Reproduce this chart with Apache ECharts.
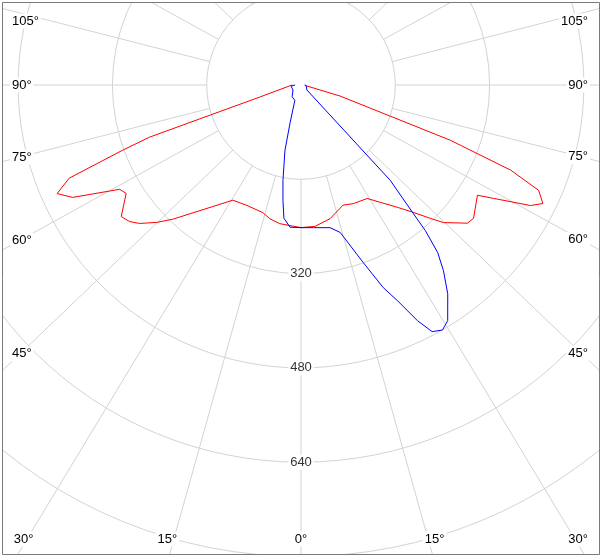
<!DOCTYPE html>
<html><head><meta charset="utf-8">
<script src="https://cdn.jsdelivr.net/npm/echarts@6/dist/echarts.min.js"></script>
<style>html,body{margin:0;padding:0;background:#fff}#c{width:603px;height:559px}</style>
</head><body><div id="c"></div>
<script>
// ---- data (gamma angle in degrees, intensity) ----
const radiusTicks = [320, 480, 640];
const angleTicks = [0, 15, 30, 45, 60, 75, 90, 105];
const gridAngles = [-180, -165, -150, -135, -120, -105, -90, -75, -60, -45, -30, -15, 0,
                    15, 30, 45, 60, 75, 90, 105, 120, 135, 150, 165];

const redLeftGamma  = [0, 8.7, 13.1, 16.7, 24.2, 30.6, 43.7, 46.4, 49.4, 51.5, 53.8, 58.2, 60.1, 63.8, 66.0, 68.1, 69.9, 71.0, 71.5, 73.7, 85, 90];
const redLeftValue  = [242, 238, 233, 226, 224, 227, 315, 338, 361, 372, 378, 349, 355, 432, 453, 424, 323, 272, 181, 73, 20, 15];
const redRightGamma = [0, 5.7, 12.3, 19.3, 23.8, 30.3, 34.0, 38.2, 41.4, 44.1, 46.0, 50.3, 52.3, 58.0, 59.5, 62.3, 63.9, 66.1, 67.9, 69.7, 74.2, 80.5, 90];
const redRightValue = [242, 241, 232, 216, 220, 223, 240, 264, 288, 315, 336, 367, 370, 353, 379, 440, 457, 441, 384, 270, 69, 10, 8];

const blueLeftGamma  = [0, 4.4, 7.3, 8.9, 10.7, 13.8, 16.1, 21.8, 36.9, 58, 84, 90];
const blueLeftValue  = [242, 242, 228, 198, 165, 114, 67, 28, 25, 16, 17, 10];
const blueRightGamma = [0, 5, 11.5, 14.9, 19.3, 22.1, 24.1, 26.3, 28.0, 30.0, 31.9, 35.1, 37.5, 39.2, 40.5, 41.2, 43.1, 50, 79, 90];
const blueRightValue = [242, 243, 247, 259, 319, 371, 401, 446, 474, 480, 471, 433, 397, 367, 325, 287, 222, 13, 9, 6];

// ---- build polar data: [radius, angle]; left side -> negative angle ----
function planeData(lg, lv, rg, rv) {
  const out = [];
  for (let i = lg.length - 1; i >= 0; i--) out.push([lv[i], -lg[i]]);
  for (let i = 0; i < rg.length; i++) out.push([rv[i], rg[i]]);
  return out;
}
const redData = planeData(redLeftGamma, redLeftValue, redRightGamma, redRightValue);
const blueData = planeData(blueLeftGamma, blueLeftValue, blueRightGamma, blueRightValue);

const W = 603, H = 559;
const CX = 301, CY = 85, PPU = 94.3 / 160;
const RMAX = 1120, RIN_VAL = 160;
const K = 1.045;               // horizontal stretch of the radial grid lines
const FONT = 'Liberation Sans';
const FS = 13;
const GRID = '#d3d3d3';

function skew(a) {             // displayed angle of a radial grid line
  const r = a * Math.PI / 180;
  return Math.atan2(K * Math.sin(r), Math.cos(r)) * 180 / Math.PI;
}

const chart = echarts.init(document.getElementById('c'), null, {renderer: 'canvas'});

// angle labels where each radial line meets an inset box
const graphics = [];
const XL = 20, XR = 581, YB = 562, YT = 21, YBL = 539;
angleTicks.forEach(g => {
  const sides = g === 0 ? [0] : [-1, 1];
  sides.forEach(s => {
    const rad = g * Math.PI / 180;
    const dx = s * K * Math.sin(rad), dy = Math.cos(rad);
    let tSide = Infinity, tBot = Infinity;
    if (s < 0) tSide = (CX - XL) / -dx;
    if (s > 0) tSide = (XR - CX) / dx;
    if (dy > 0) tBot = (YB - CY) / dy;
    let x, y, align;
    const ySide = CY + dy * tSide;
    if (tBot < tSide || ySide > YBL) {
      x = Math.min(578, Math.max(23.5, CX + dx * tBot)); y = YBL; align = 'center';
    } else {
      y = Math.max(YT, ySide);
      if (s < 0) { x = 10; align = 'left'; } else { x = 590; align = 'right'; }
    }
    graphics.push({
      type: 'text', x: x, y: y, z: 50,
      style: {text: g + '°', font: FS + 'px "' + FONT + '"', fill: '#000',
              align: align, verticalAlign: 'middle',
              backgroundColor: '#fff', padding: [1, 2]}
    });
  });
});
// white margins outside the frame and the frame itself
graphics.push({type: 'rect', z: 60, shape: {x: 0, y: 0, width: W, height: 2}, style: {fill: '#fff'}});
graphics.push({type: 'rect', z: 60, shape: {x: 0, y: 555, width: W, height: 4}, style: {fill: '#fff'}});
graphics.push({type: 'rect', z: 60, shape: {x: 0, y: 0, width: 2, height: H}, style: {fill: '#fff'}});
graphics.push({type: 'rect', z: 60, shape: {x: 600, y: 0, width: 3, height: H}, style: {fill: '#fff'}});
graphics.push({type: 'rect', z: 61, shape: {x: 2.5, y: 2.5, width: 597, height: 552}, style: {fill: null, stroke: '#7a7a7a', lineWidth: 1}});

chart.setOption({
  animation: false,
  backgroundColor: '#fff',
  polar: {center: [CX, CY], radius: [0, RMAX * PPU]},
  angleAxis: {
    type: 'value', min: -180, max: 180, interval: 15, startAngle: 90, clockwise: false,
    axisLine: {show: false}, axisTick: {show: false}, axisLabel: {show: false},
    splitLine: {show: false}
  },
  radiusAxis: {
    type: 'value', min: 0, max: RMAX, interval: 160,
    axisLine: {show: false}, axisTick: {show: false}, axisLabel: {show: false},
    splitLine: {show: true, lineStyle: {color: GRID, width: 1}}
  },
  series: [
    {type: 'custom', coordinateSystem: 'polar', silent: true, z: 1,
     data: gridAngles.map(a => [0, a]),
     renderItem: function (params, api) {
       const a = skew(api.value(1));
       const p0 = api.coord([RIN_VAL, a]);
       const p1 = api.coord([RMAX, a]);
       return {type: 'line', shape: {x1: p0[0], y1: p0[1], x2: p1[0], y2: p1[1]},
               style: {stroke: GRID, lineWidth: 1}};
     }},
    {type: 'line', coordinateSystem: 'polar', data: redData, symbol: 'none', clip: false,
     lineStyle: {color: '#ff0000', width: 1}, z: 3},
    {type: 'line', coordinateSystem: 'polar', data: blueData, symbol: 'none', clip: false,
     lineStyle: {color: '#0000ff', width: 1}, z: 4},
    {type: 'scatter', coordinateSystem: 'polar', data: radiusTicks.map(v => [v, 0]),
     symbolSize: 0, silent: true, z: 10,
     label: {show: true, position: 'inside', formatter: p => String(p.value[0]),
             color: '#000', fontSize: FS, fontFamily: FONT,
             backgroundColor: '#fff', padding: [1, 2]}}
  ],
  graphic: graphics
});
</script>
</body></html>
